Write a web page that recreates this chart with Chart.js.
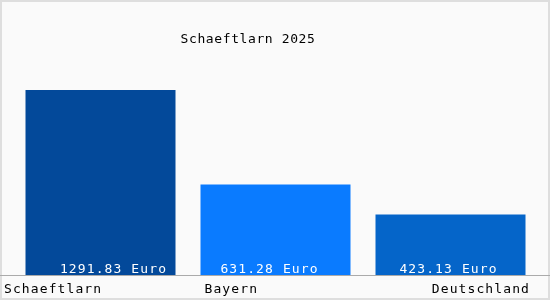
<!DOCTYPE html>
<html>
<head>
<meta charset="utf-8">
<script src="https://cdn.jsdelivr.net/npm/chart.js@4"></script>
<style>
  body { margin: 0; background: #fff; }
  #wrap { width: 550px; height: 300px; box-sizing: border-box; border: 2px solid #dedede; background: #fafafa; position: relative; }
  canvas { position: absolute; left: -2px; top: -2px; }
</style>
</head>
<body>
<div id="wrap"><canvas id="chart" width="550" height="300"></canvas></div>
<script>
const chartTitle = 'Schaeftlarn 2025';
const regions = ['Schaeftlarn', 'Bayern', 'Deutschland'];
const amounts = [1291.83, 631.28, 423.13];
const barColors = ['#03499a', '#0a7bff', '#0565c9'];

const font = '13px "DejaVu Sans Mono", monospace';

// title, baseline, category labels and value labels drawn on top
const textPlugin = {
  id: 'texts',
  afterDatasetsDraw(chart) {
    const ctx = chart.ctx;
    const bars = chart.getDatasetMeta(0).data;
    const base = chart.chartArea.bottom;
    ctx.save();

    ctx.strokeStyle = '#aaaaaa';
    ctx.lineWidth = 1;
    ctx.beginPath();
    ctx.moveTo(0, base + 0.5);
    ctx.lineTo(550, base + 0.5);
    ctx.stroke();

    ctx.font = font;
    ctx.textBaseline = 'alphabetic';

    ctx.fillStyle = '#000';
    ctx.letterSpacing = '0.6px';
    ctx.textAlign = 'center';
    ctx.fillText(chartTitle, 248, 43);

    ctx.letterSpacing = '1.1px';
    const shift = [13, -6, -2];
    bars.forEach((bar, i) => {
      ctx.fillStyle = '#ffffff';
      ctx.textAlign = 'center';
      ctx.fillText(amounts[i].toFixed(2) + ' Euro', bar.x + shift[i], base - 2);

      ctx.fillStyle = '#000';
      if (i === 0) {
        ctx.textAlign = 'left';
        ctx.fillText(regions[i], 4, 293);
      } else if (i === bars.length - 1) {
        ctx.textAlign = 'right';
        ctx.fillText(regions[i], 530, 293);
      } else {
        ctx.textAlign = 'left';
        ctx.fillText(regions[i], bar.x - bar.width / 2 + 4, 293);
      }
    });
    ctx.restore();
  }
};

new Chart(document.getElementById('chart'), {
  type: 'bar',
  data: {
    labels: regions,
    datasets: [{
      data: amounts,
      backgroundColor: barColors,
      borderWidth: 0,
      categoryPercentage: 1,
      barPercentage: 150 / 175
    }]
  },
  options: {
    responsive: false,
    animation: false,
    layout: { padding: { top: 90, bottom: 25, left: 13, right: 12 } },
    plugins: { legend: { display: false }, title: { display: false }, tooltip: { enabled: false } },
    scales: {
      x: { display: false },
      y: { display: false, min: 0, max: Math.max(...amounts) }
    }
  },
  plugins: [textPlugin]
});
</script>
</body>
</html>
